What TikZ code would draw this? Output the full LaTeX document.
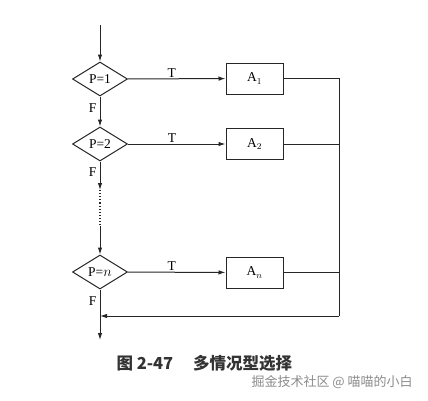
\documentclass[tikz,border=0pt]{standalone}
\usepackage{fontspec}
\setmainfont{Liberation Serif}
\newfontfamily\cjk{Noto Sans CJK SC}
\usetikzlibrary{shapes.geometric,arrows.meta}
\begin{document}
\begin{tikzpicture}[x=1pt,y=-1pt,
  line width=1pt, draw=black!85,
  dec/.style={diamond, draw, minimum width=55pt, minimum height=34pt, inner sep=0pt, font=\fontsize{13.5}{14}\selectfont},
  act/.style={rectangle, draw, minimum width=57pt, minimum height=31pt, inner sep=0pt, font=\fontsize{13.5}{14}\selectfont},
  flow/.style={-{Latex[length=7pt,width=4.5pt]}},
  lbl/.style={font=\fontsize{13.5}{14}\selectfont, inner sep=1pt}]
\useasboundingbox[fill=white] (0,0) rectangle (428,400);
\coordinate (s) at (100,25);
\node[dec] (d1) at (100,79) {P=1};
\node[dec] (d2) at (100,144) {P=2};
\node[dec] (dn) at (100,272) {P=$n$};
\node[act] (a1) at (254.5,78.5) {A$_1$};
\node[act] (a2) at (254.5,144) {A$_2$};
\node[act] (an) at (254.5,272.5) {A$_n$};
\coordinate (rt) at (339,78.5);
\coordinate (rb) at (339,316);
\coordinate (lb) at (100,316);
\coordinate (c1) at (100,190);
\coordinate (c2) at (100,226);
\coordinate (e) at (100,340);
\draw[flow] (s) -- (d1);
\draw[flow] (d1) -- (d2);
\draw[flow] (d2) -- (c1);
\draw[dotted, line width=1.1pt] (c1) -- (c2);
\draw[flow] (c2) -- (dn);
\draw[flow] (d1) -- node[lbl, above, pos=0.45] {T} (a1);
\draw[flow] (d2) -- node[lbl, above, pos=0.45] {T} (a2);
\draw[flow] (dn) -- node[lbl, above, pos=0.45] {T} (an);
\draw (a1.east) -- (rt) -- (rb);
\draw (a2.east) -- (a2.east -| rb);
\draw (an.east) -- (an.east -| rb);
\draw[flow] (rb) -- (lb);
\draw[flow] (dn) -- (e);
\node[lbl, anchor=east] (f1) at (98,108) {F};
\node[lbl, anchor=east] (f2) at (98,172) {F};
\node[lbl, anchor=east] (f3) at (98,301) {F};
\node[anchor=west, inner sep=0pt, font=\cjk\bfseries\fontsize{16.5}{18}\selectfont, text=black!80] (cap) at (116,363) {图 2-47\hspace{1.2em}多情况型选择};
\node[anchor=west, inner sep=0pt, font=\cjk\fontsize{13}{15}\selectfont, text=black!45] (wm) at (251,382) {掘金技术社区 @ 喵喵的小白};
\end{tikzpicture}
\end{document}
